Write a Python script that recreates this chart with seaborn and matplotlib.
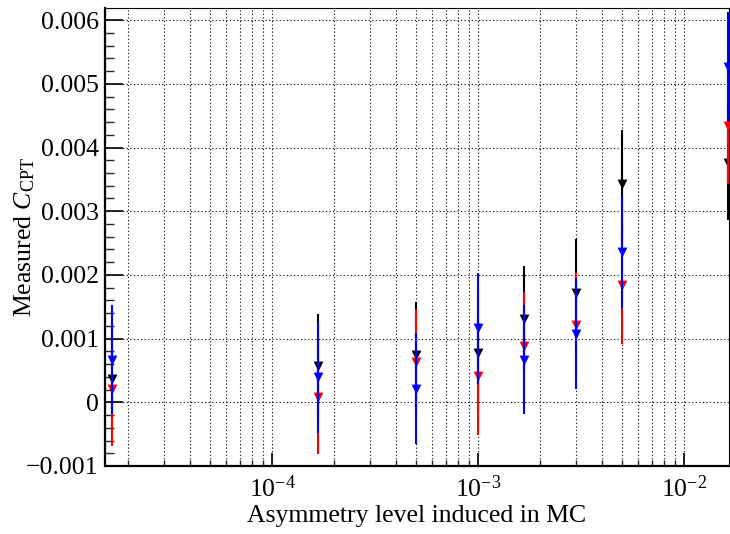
import numpy as np
import matplotlib
matplotlib.use("Agg")
import matplotlib.pyplot as plt
import matplotlib.ticker as mticker
import seaborn as sns

# asymmetry level induced in MC (x) and measured C_CPT for three samples
asym_level = [1.67e-5, 1.67e-4, 5e-4, 1e-3, 1.67e-3, 3e-3, 5e-3, 1.63e-2]

black_val = [0.00036, 0.00057, 0.00075, 0.00078, 0.00130, 0.00172, 0.00343, 0.00376]
black_err = [0.00090, 0.00082, 0.00083, 0.00090, 0.00084, 0.00085, 0.00085, 0.00090]

red_val = [0.000215, 0.00008, 0.00063, 0.00041, 0.00088, 0.00121, 0.00184, 0.00433]
red_err = [0.00090, 0.00089, 0.00084, 0.00093, 0.00085, 0.00084, 0.00092, 0.00091]

blue_val = [0.00067, 0.00039, 0.000215, 0.00116, 0.00067, 0.00108, 0.00236, 0.00527]
blue_err = [0.00086, 0.00087, 0.00087, 0.00087, 0.00086, 0.00087, 0.00088, 0.00085]

SERIES = [
    ("black", black_val, black_err),
    ("#ff0000", red_val, red_err),
    ("#0000ff", blue_val, blue_err),
]

sns.set_theme(style="white")
plt.rcParams["font.family"] = ["Liberation Serif", "DejaVu Serif"]
plt.rcParams["mathtext.fontset"] = "custom"
plt.rcParams["mathtext.rm"] = "Liberation Serif"
plt.rcParams["mathtext.it"] = "Liberation Serif:italic"
plt.rcParams["axes.unicode_minus"] = True

fig = plt.figure(figsize=(7.3, 5.34), dpi=100)
fig.patch.set_facecolor("white")
ax = fig.add_axes([105.5 / 730, 1 - 466 / 534, (728.5 - 105.5) / 730, (466 - 8) / 534])
ax.set_facecolor("white")

z = 3
for color, vals, errs in SERIES:
    ax.errorbar(asym_level, vals, yerr=errs, fmt="none", ecolor=color,
                elinewidth=1.5, capsize=0, zorder=z)
    sns.scatterplot(x=asym_level, y=vals, marker="v", s=50, color=color,
                    edgecolor=color, linewidth=0, ax=ax, zorder=z + 0.5, legend=False)
    z += 1

ax.set_xscale("log")
ax.set_xlim(1.556e-5, 1.644e-2)
ax.set_ylim(-0.001, 0.00619)

ax.xaxis.set_major_locator(mticker.LogLocator(base=10, numticks=20))
ax.xaxis.set_minor_locator(mticker.LogLocator(base=10, subs=np.arange(2, 10), numticks=100))
ax.xaxis.set_minor_formatter(mticker.NullFormatter())
ax.yaxis.set_major_locator(mticker.MultipleLocator(0.001))
ax.yaxis.set_minor_locator(mticker.MultipleLocator(0.0002))
ax.yaxis.set_major_formatter(mticker.FuncFormatter(
    lambda v, p: "0" if abs(v) < 1e-9 else f"{v:.3f}".replace("-", "\u2212")))

# dotted grid: x at every decade and sub-decade tick, y at major ticks
grid_kw = dict(color="black", linewidth=0.8, linestyle=(0, (1, 2.2)))
ax.grid(True, which="both", axis="x", **grid_kw)
ax.grid(True, which="major", axis="y", **grid_kw)
ax.set_axisbelow(True)

ax.tick_params(axis="y", which="major", direction="in", length=13, width=1.2,
               labelsize=18.5, pad=5, colors="black", left=True, right=False)
ax.tick_params(axis="y", which="minor", direction="in", length=6.5, width=1.0,
               left=True, right=False)
ax.tick_params(axis="x", which="major", direction="in", length=9.5, width=1.2,
               labelsize=18.5, pad=7, colors="black", bottom=True, top=False)
ax.tick_params(axis="x", which="minor", direction="in", length=4.5, width=1.0,
               bottom=True, top=False)

for side in ["left", "bottom"]:
    ax.spines[side].set_linewidth(1.6)
    ax.spines[side].set_color("black")
for side in ["top", "right"]:
    ax.spines[side].set_linewidth(0.8)
    ax.spines[side].set_color("black")

ax.set_xlabel("Asymmetry level induced in MC", fontsize=18.5, color="black")
ax.set_ylabel(r"Measured $C_{\rm CPT}$", fontsize=18.5, color="black")
ax.xaxis.set_label_coords(0.5, -0.085)
ax.yaxis.set_label_coords(-0.11, 0.5)

fig.savefig("out.png", dpi=100, facecolor="white")
